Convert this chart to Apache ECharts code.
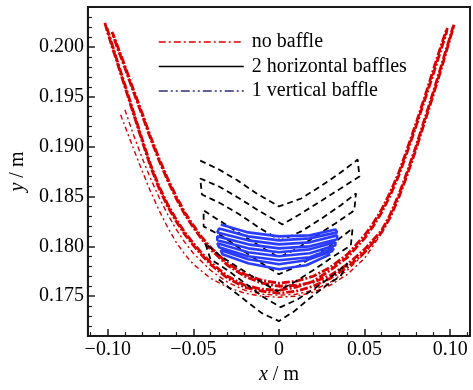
<!DOCTYPE html>
<html><head><meta charset="utf-8">
<script src="https://cdn.jsdelivr.net/npm/echarts@6/dist/echarts.min.js"></script>
<style>html,body{margin:0;padding:0;background:#fff}#c{width:473px;height:390px}</style>
</head><body><div id="c"></div>
<script>
// ---- tick labels ----
const xTickValues = [-0.10, -0.05, 0, 0.05, 0.10];
const xTickLabels = ['\u22120.10', '\u22120.05', '0', '0.05', '0.10'];
const yTickValues = [0.175, 0.180, 0.185, 0.190, 0.195, 0.200];
const yTickLabels = ['0.175', '0.180', '0.185', '0.190', '0.195', '0.200'];
const seriesNames = ['no baffle', '2 horizontal baffles', '1 vertical baffle'];

// ---- no baffle (red) : main trajectory passes ----
const redPass1 = [[-0.1017,0.2024],[-0.100,0.2014],[-0.095,0.1987],[-0.090,0.1960],[-0.085,0.1933],[-0.080,0.1906],[-0.075,0.1880],[-0.070,0.1858],[-0.065,0.1840],[-0.060,0.1825],[-0.055,0.1812],[-0.050,0.1801],[-0.045,0.1791],[-0.040,0.1782],[-0.030,0.1768],[-0.020,0.1759],[-0.010,0.1755],[0.000,0.1753],[0.010,0.1755],[0.020,0.1760],[0.030,0.1768],[0.040,0.1779],[0.050,0.1794],[0.060,0.1814],[0.065,0.1829],[0.070,0.1849],[0.075,0.1872],[0.080,0.1897],[0.085,0.1924],[0.090,0.1951],[0.095,0.1979],[0.1023,0.2022]];
const redPass2 = [[0.1015,0.2019],[0.095,0.1982],[0.090,0.1954],[0.085,0.1927],[0.080,0.1900],[0.075,0.1875],[0.070,0.1852],[0.065,0.1832],[0.060,0.1816],[0.050,0.1797],[0.040,0.1782],[0.030,0.1771],[0.020,0.1764],[0.010,0.1761],[0.000,0.1760],[-0.010,0.1763],[-0.020,0.1770],[-0.030,0.1781],[-0.040,0.1797],[-0.045,0.1807],[-0.050,0.1819],[-0.055,0.1832],[-0.060,0.1848],[-0.065,0.1866],[-0.070,0.1886],[-0.075,0.1908],[-0.080,0.1932],[-0.085,0.1955],[-0.090,0.1979],[-0.095,0.2002],[-0.0975,0.2015]];
const redPass3 = [[-0.0965,0.2011],[-0.095,0.2004],[-0.090,0.1981],[-0.085,0.1957],[-0.080,0.1934],[-0.075,0.1910],[-0.070,0.1888],[-0.065,0.1868],[-0.060,0.1850],[-0.055,0.1834],[-0.050,0.1821],[-0.045,0.1809],[-0.040,0.1799],[-0.030,0.1783],[-0.020,0.1772],[-0.010,0.1766],[0.000,0.1763],[0.010,0.1765],[0.020,0.1770],[0.030,0.1779],[0.040,0.1792],[0.050,0.1811],[0.055,0.1823],[0.060,0.1837],[0.065,0.1854],[0.070,0.1874],[0.075,0.1898],[0.080,0.1923],[0.085,0.1949],[0.090,0.1976],[0.095,0.2003],[0.0983,0.2019]];
const redPass4 = [[0.0978,0.2014],[0.095,0.1999],[0.090,0.1972],[0.085,0.1946],[0.080,0.1920],[0.075,0.1895],[0.070,0.1871],[0.065,0.1851],[0.060,0.1834],[0.055,0.1820],[0.050,0.1808],[0.040,0.1789],[0.030,0.1776],[0.020,0.1765],[0.010,0.1759],[0.000,0.1756],[-0.010,0.1757],[-0.020,0.1761],[-0.030,0.1770],[-0.040,0.1784],[-0.045,0.1793],[-0.050,0.1803],[-0.055,0.1814],[-0.060,0.1827],[-0.065,0.1842],[-0.070,0.1860],[-0.075,0.1882],[-0.080,0.1908],[-0.085,0.1935],[-0.090,0.1962],[-0.095,0.1989],[-0.1005,0.2019]];
// ---- no baffle (red) : outer thin dashed passes ----
const redOuter1 = [[-0.0925,0.1932],[-0.085,0.1898],[-0.080,0.1876],[-0.075,0.1855],[-0.070,0.1836],[-0.065,0.1819],[-0.060,0.1804],[-0.055,0.1792],[-0.050,0.1782],[-0.040,0.1768],[-0.030,0.1759],[-0.020,0.1753],[-0.010,0.1750],[0.000,0.1749],[0.010,0.1750],[0.020,0.1754],[0.030,0.1761],[0.040,0.1772],[0.050,0.1788],[0.0595,0.1812]];
const redOuter2 = [[-0.0900,0.1937],[-0.085,0.1912],[-0.080,0.1889],[-0.075,0.1868],[-0.070,0.1849],[-0.065,0.1832],[-0.060,0.1817],[-0.055,0.1804],[-0.050,0.1793],[-0.040,0.1776],[-0.030,0.1764],[-0.020,0.1756],[-0.010,0.1752],[0.000,0.1751],[0.010,0.1752],[0.020,0.1756],[0.030,0.1764],[0.040,0.1776],[0.050,0.1793],[0.057,0.1808]];

// ---- 2 horizontal baffles (black) : stacked chevron swings ----
const blackK1 = [[-0.046,0.1886],[-0.035,0.1877],[-0.025,0.1867],[-0.013,0.1853],[0.000,0.1840],[0.013,0.1848],[0.025,0.1861],[0.036,0.1874],[0.046,0.1887]];
const blackK2 = [[0.047,0.1870],[0.036,0.1858],[0.025,0.1846],[0.013,0.1833],[0.002,0.1822],[-0.012,0.1836],[-0.024,0.1849],[-0.035,0.1860],[-0.046,0.1868]];
const blackK3 = [[-0.045,0.1852],[-0.034,0.1843],[-0.023,0.1832],[-0.011,0.1818],[0.001,0.1806],[0.013,0.1815],[0.025,0.1828],[0.036,0.1841],[0.045,0.1853]];
const blackK4 = [[0.044,0.1836],[0.033,0.1823],[0.022,0.1811],[0.011,0.1798],[0.000,0.1789],[-0.012,0.1801],[-0.023,0.1813],[-0.034,0.1825],[-0.044,0.1836]];
const blackK5 = [[-0.044,0.1820],[-0.033,0.1810],[-0.022,0.1797],[-0.011,0.1784],[0.000,0.1772],[0.012,0.1781],[0.023,0.1793],[0.034,0.1806],[0.043,0.1818]];
const blackK6 = [[0.042,0.1801],[0.031,0.1789],[0.020,0.1776],[0.009,0.1764],[-0.001,0.1755],[-0.012,0.1766],[-0.023,0.1778],[-0.034,0.1790],[-0.043,0.1803]];
const blackK7 = [[-0.040,0.1787],[-0.030,0.1776],[-0.019,0.1762],[-0.009,0.1749],[0.001,0.1739],[0.011,0.1747],[0.021,0.1758],[0.031,0.1770],[0.040,0.1783]];
const blackK8 = [[0.036,0.1770],[0.027,0.1760],[0.018,0.1748],[0.009,0.1735],[0.000,0.1725],[-0.010,0.1733],[-0.019,0.1745],[-0.028,0.1757],[-0.036,0.1768]];

// ---- 1 vertical baffle (blue) : flat looping sweeps ----
const blueL1 = [[-0.034,0.1822],[-0.018,0.1814],[0.000,0.1810],[0.018,0.1811],[0.033,0.1817]];
const blueL2 = [[0.034,0.1814],[0.018,0.1808],[0.000,0.1806],[-0.018,0.1810],[-0.035,0.1818]];
const blueL3 = [[-0.036,0.1814],[-0.018,0.1806],[0.000,0.1802],[0.018,0.1804],[0.034,0.1811]];
const blueL4 = [[0.034,0.1807],[0.018,0.1800],[0.000,0.1798],[-0.018,0.1802],[-0.036,0.1810]];
const blueL5 = [[-0.036,0.1806],[-0.018,0.1798],[0.000,0.1794],[0.018,0.1797],[0.033,0.1804]];
const blueL6 = [[0.033,0.1801],[0.018,0.1793],[0.000,0.1790],[-0.018,0.1794],[-0.036,0.1803]];
const blueL7 = [[-0.035,0.1799],[-0.018,0.1790],[0.000,0.1786],[0.018,0.1789],[0.032,0.1798]];
const blueL8 = [[0.031,0.1795],[0.016,0.1786],[0.000,0.1782],[-0.018,0.1787],[-0.034,0.1796]];
const blueL9 = [[-0.033,0.1792],[-0.018,0.1783],[0.000,0.1777],[0.016,0.1781],[0.030,0.1792]];

const FONT = '"Liberation Serif", "Times New Roman", serif';
const RED = '#d80000', BLUE = '#2a3cff', BLACK = '#000000';

function pickLabel(v, vals, labels) {
  for (let i = 0; i < vals.length; i++) if (Math.abs(vals[i] - v) < 1e-9) return labels[i];
  return '';
}

const redMain = [].concat(redPass1, redPass2, redPass3, redPass4);
const blackPath = [].concat(blackK1, blackK2, blackK3, blackK4, blackK5, blackK6, blackK7, blackK8);
const bluePath = [].concat(blueL1, blueL2, blueL3, blueL4, blueL5, blueL6, blueL7, blueL8, blueL9);

function lineSeries(name, data, style, z) {
  return { name: name, type: 'line', data: data, showSymbol: false, symbol: 'none',
           itemStyle: { color: style.color }, lineStyle: style, z: z, silent: true, animation: false, clip: true };
}
const hiddenSym = { color: 'rgba(0,0,0,0)', borderColor: 'rgba(0,0,0,0)', borderWidth: 0, opacity: 0 };

const chart = echarts.init(document.getElementById('c'), null, { renderer: 'canvas' });
chart.setOption({
  animation: false,
  backgroundColor: '#ffffff',
  grid: { left: 85, right: 2, top: 7, bottom: 45, show: true, borderColor: '#1a1a1a', borderWidth: 2, backgroundColor: 'transparent' },
  legend: {
    orient: 'vertical', left: 153, top: 27, itemWidth: 85, itemHeight: 14, itemGap: 4.5,
    selectedMode: false,
    textStyle: { fontFamily: FONT, fontSize: 20, color: '#000', padding: [0, 0, 0, 3] },
    data: [
      { name: seriesNames[0], itemStyle: hiddenSym, lineStyle: { type: [7, 3, 2, 3], width: 1.5, color: RED } },
      { name: seriesNames[1], itemStyle: hiddenSym, lineStyle: { type: 'solid', width: 1.5, color: BLACK } },
      { name: seriesNames[2], itemStyle: hiddenSym, lineStyle: { type: [9, 3, 2, 3, 2, 3], width: 1.5, color: '#2b2f78' } }
    ]
  },
  xAxis: {
    type: 'value', min: -0.1116, max: 0.1116,
    name: '{i|x} / m', nameLocation: 'middle', nameGap: 24,
    nameTextStyle: { fontFamily: FONT, fontSize: 20, color: '#000', rich: { i: { fontFamily: FONT, fontSize: 20, fontStyle: 'italic' } } },
    axisLine: { show: true, onZero: false, lineStyle: { color: '#1a1a1a', width: 2 } },
    axisTick: { show: true, inside: true, length: 7, lineStyle: { color: '#1a1a1a', width: 1.5 } },
    minorTick: { show: true, splitNumber: 5, length: 4, lineStyle: { color: '#1a1a1a', width: 1.2 } },
    splitLine: { show: false },
    axisLabel: { margin: 4, fontFamily: FONT, fontSize: 20, color: '#000',
      formatter: v => pickLabel(v, xTickValues, xTickLabels) }
  },
  yAxis: {
    type: 'value', min: 0.171, max: 0.204,
    name: '{i|y} / m', nameLocation: 'middle', nameGap: 57,
    nameTextStyle: { fontFamily: FONT, fontSize: 20, color: '#000', rich: { i: { fontFamily: FONT, fontSize: 20, fontStyle: 'italic' } } },
    axisLine: { show: true, onZero: false, lineStyle: { color: '#1a1a1a', width: 2 } },
    axisTick: { show: true, inside: true, length: 7, lineStyle: { color: '#1a1a1a', width: 1.5 } },
    minorTick: { show: true, splitNumber: 5, length: 4, lineStyle: { color: '#1a1a1a', width: 1.2 } },
    splitLine: { show: false },
    axisLabel: { margin: 4, fontFamily: FONT, fontSize: 20, color: '#000',
      formatter: v => pickLabel(v, yTickValues, yTickLabels) }
  },
  series: [
    lineSeries(seriesNames[0], redMain, { color: RED, width: 2.8, type: [8, 2, 2, 2] }, 2),
    lineSeries(seriesNames[0], redOuter1, { color: RED, width: 1.4, type: [5, 3, 2, 3] }, 2),
    lineSeries(seriesNames[0], redOuter2, { color: RED, width: 1.4, type: [5, 3, 2, 3] }, 2),
    lineSeries(seriesNames[1], blackPath, { color: BLACK, width: 1.8, type: [6, 4] }, 3),
    lineSeries(seriesNames[2], bluePath, { color: BLUE, width: 2.6, type: 'solid' }, 4)
  ]
});
</script>
</body></html>
